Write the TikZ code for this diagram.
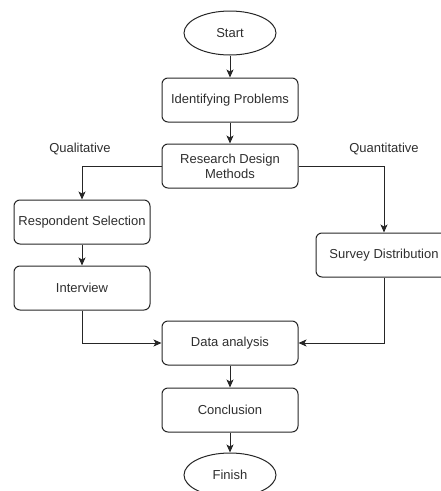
\documentclass[tikz,border=0pt]{standalone}
\usepackage{fontspec}
\setmainfont{Liberation Sans}
\usetikzlibrary{shapes.geometric,arrows.meta}
\begin{document}
\begin{tikzpicture}[x=1pt,y=-1pt,
  every node/.style={font=\fontsize{13}{15}\selectfont, text=black!82},
  box/.style={draw=black!85, line width=1pt, rounded corners=6pt, minimum width=136pt, minimum height=44pt, inner sep=2pt, align=center},
  term/.style={draw=black!85, line width=1pt, ellipse, minimum width=92pt, minimum height=44pt, inner sep=0pt},
  conn/.style={draw=black!85, line width=1pt, -{Stealth[length=8pt,width=7pt,inset=2pt]}},
  lbl/.style={}]
\useasboundingbox (0,0) rectangle (441,491);
\node[term] (start) at (230,33) {Start};
\node[box] (ident) at (230,100) {Identifying Problems};
\node[box] (rdm) at (230,166) {Research Design\\Methods};
\node[box] (resp) at (82,222) {Respondent Selection};
\node[box] (surv) at (384,255) {Survey Distribution};
\node[box] (intv) at (82,288) {Interview};
\node[box] (data) at (230,343) {Data analysis};
\node[box] (concl) at (230,410) {Conclusion};
\node[term] (fin) at (230,475) {Finish};
\node[lbl] (qual) at (80,149) {Qualitative};
\node[lbl] (quant) at (384,149) {Quantitative};
\draw[conn] (start) -- (ident);
\draw[conn] (ident) -- (rdm);
\draw[conn] (rdm.west) -| (resp.north);
\draw[conn] (rdm.east) -| (surv.north);
\draw[conn] (resp) -- (intv);
\draw[conn] (intv.south) |- (data.west);
\draw[conn] (surv.south) |- (data.east);
\draw[conn] (data) -- (concl);
\draw[conn] (concl) -- (fin);
\end{tikzpicture}
\end{document}
